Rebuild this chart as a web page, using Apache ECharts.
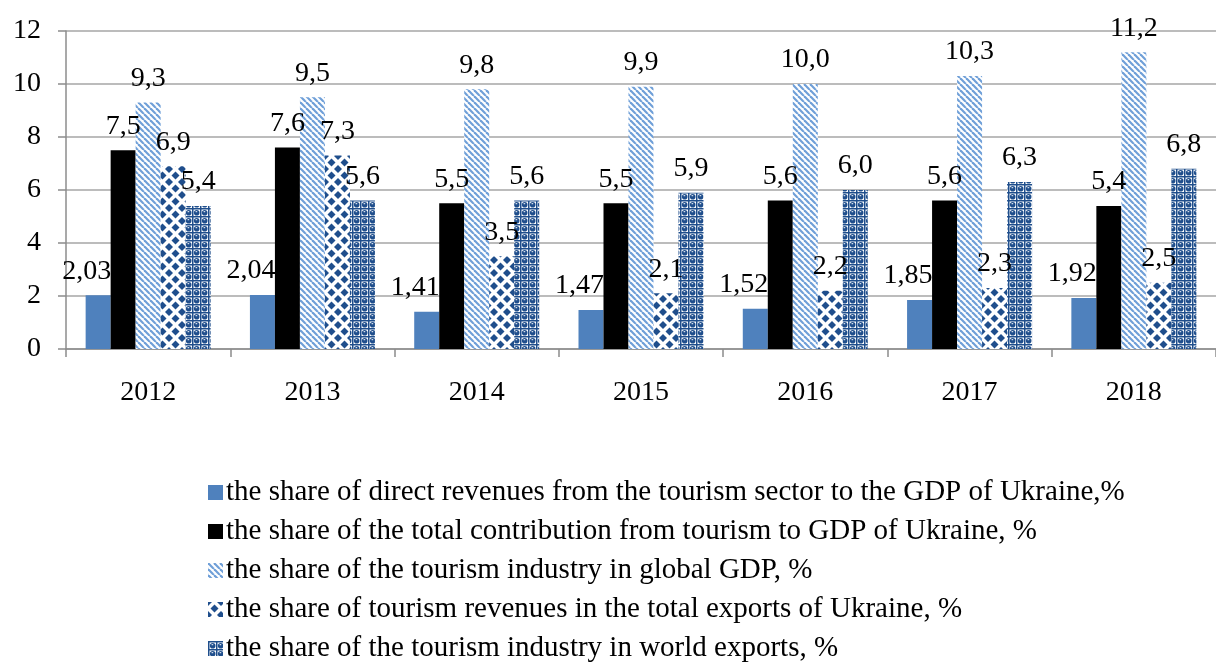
<!DOCTYPE html>
<html>
<head>
<meta charset="utf-8">
<script src="https://cdn.jsdelivr.net/npm/echarts@6/dist/echarts.min.js"></script>
<style>
html,body{margin:0;padding:0;background:#fff;}
#main{width:1216px;height:670px;}
</style>
</head>
<body>
<div id="main"></div>
<script>
//数据
var years = ['2012', '2013', '2014', '2015', '2016', '2017', '2018'];
var directShare = [2.03, 2.04, 1.41, 1.47, 1.52, 1.85, 1.92];
var totalShare = [7.5, 7.6, 5.5, 5.5, 5.6, 5.6, 5.4];
var globalGdp = [9.3, 9.5, 9.8, 9.9, 10.0, 10.3, 11.2];
var exportsUa = [6.9, 7.3, 3.5, 2.1, 2.2, 2.3, 2.5];
var worldExports = [5.4, 5.6, 5.6, 5.9, 6.0, 6.3, 6.8];
var seriesNames = [
	'the share of direct revenues from the tourism sector to the GDP of Ukraine,%',
	'the share of the total contribution from tourism to GDP of Ukraine, %',
	'the share of the tourism industry in global GDP, %',
	'the share of tourism revenues in the total exports of Ukraine, %',
	'the share of the tourism industry in world exports, %'
];
var yTicks = [0, 2, 4, 6, 8, 10, 12];

var fontName = '"Liberation Serif", "Times New Roman", serif';
var darkBlue = '#1f4e8c';

//填充图案
function makeTile(size, draw) {
	var c = document.createElement('canvas');
	c.width = size;
	c.height = size;
	draw(c.getContext('2d'), size);
	return c;
}
var stripeTile = makeTile(6, function(ctx, s) {
	ctx.fillStyle = '#fff';
	ctx.fillRect(0, 0, s, s);
	ctx.strokeStyle = '#6f9fd8';
	ctx.lineWidth = 2.2;
	for (var k = -1; k <= 1; k++) {
		ctx.beginPath();
		ctx.moveTo(k * s, 0);
		ctx.lineTo(k * s + s, s);
		ctx.stroke();
	}
});
var diamondTile = makeTile(13, function(ctx, s) {
	ctx.fillStyle = '#fff';
	ctx.fillRect(0, 0, s, s);
	ctx.fillStyle = darkBlue;
	var pts = [[s / 2, s / 2], [0, 0], [s, 0], [0, s], [s, s]];
	for (var i = 0; i < pts.length; i++) {
		var x = pts[i][0], y = pts[i][1], r = 4;
		ctx.beginPath();
		ctx.moveTo(x, y - r);
		ctx.lineTo(x + r, y);
		ctx.lineTo(x, y + r);
		ctx.lineTo(x - r, y);
		ctx.closePath();
		ctx.fill();
	}
});
var circleTile = makeTile(8, function(ctx, s) {
	ctx.fillStyle = '#fff';
	ctx.fillRect(0, 0, s, s);
	ctx.fillStyle = darkBlue;
	ctx.fillRect(0, 0, s, 1.5);
	ctx.fillRect(0, 0, 1.5, s);
	ctx.beginPath();
	ctx.arc(4.7, 4.7, 2.8, 0, Math.PI * 2);
	ctx.fill();
	ctx.fillStyle = '#fff';
	ctx.fillRect(3.6, 3.2, 1.6, 1);
});

function fmt(d) {
	return function(p) {
		return p.value.toFixed(d).replace('.', ',');
	};
}

function barSeries(name, data, color, digits, z) {
	return {
		name: name,
		type: 'bar',
		data: data,
		barWidth: 25,
		barGap: '0%',
		z: z,
		itemStyle: {color: color},
		label: {
			show: true,
			position: 'top',
			distance: 10,
			fontFamily: fontName,
			fontSize: 28,
			color: '#000',
			formatter: fmt(digits)
		}
	};
}

var chart = echarts.init(document.getElementById('main'));
var s1 = barSeries(seriesNames[0], directShare, '#4f81bd', 2, 1);
s1.label.align = 'right';
s1.label.offset = [13, 0];

var option = {
	animation: false,
	backgroundColor: '#fff',
	grid: {left: 66, right: -5, top: 31, bottom: 321},
	legend: {
		orient: 'vertical',
		left: 203,
		top: 473,
		itemWidth: 15,
		itemHeight: 15,
		itemGap: 10,
		icon: 'rect',
		textStyle: {fontFamily: fontName, fontSize: 29, color: '#000', padding: [0, 0, 0, -2]},
		data: seriesNames
	},
	xAxis: {
		type: 'category',
		data: years,
		axisLine: {lineStyle: {color: '#8c8c8c', width: 1.5}},
		axisTick: {show: true, length: 8, lineStyle: {color: '#8c8c8c', width: 1.5}},
		axisLabel: {fontFamily: fontName, fontSize: 28, color: '#000', margin: 30}
	},
	yAxis: {
		type: 'value',
		min: yTicks[0],
		max: yTicks[yTicks.length - 1],
		interval: yTicks[1] - yTicks[0],
		axisLine: {show: true, lineStyle: {color: '#8c8c8c', width: 1.5}},
		axisTick: {show: true, length: 8, lineStyle: {color: '#8c8c8c', width: 1.5}},
		splitLine: {lineStyle: {color: '#a6a6a6', width: 1.5}},
		axisLabel: {fontFamily: fontName, fontSize: 28, color: '#000', margin: 25}
	},
	series: [
		s1,
		barSeries(seriesNames[1], totalShare, '#000', 1, 2),
		barSeries(seriesNames[2], globalGdp, {image: stripeTile, repeat: 'repeat'}, 1, 2),
		barSeries(seriesNames[3], exportsUa, {image: diamondTile, repeat: 'repeat'}, 1, 2),
		barSeries(seriesNames[4], worldExports, {image: circleTile, repeat: 'repeat'}, 1, 2)
	]
};
chart.setOption(option);
</script>
</body>
</html>
